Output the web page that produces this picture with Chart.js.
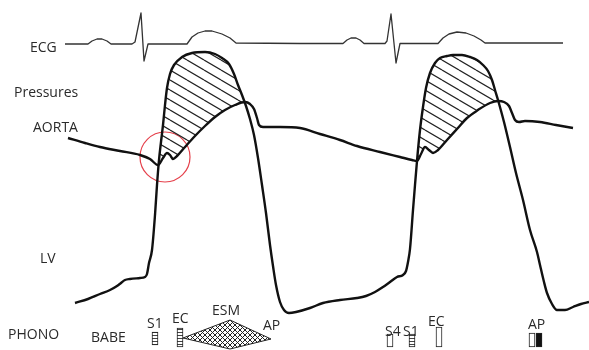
<!DOCTYPE html>
<html>
<head>
<meta charset="utf-8">
<script src="https://cdn.jsdelivr.net/npm/chart.js@4.4.1/dist/chart.umd.min.js"></script>
<style>
  html, body { margin: 0; padding: 0; background: #fff; }
  #grafico { display: block; }
</style>
</head>
<body>
<canvas id="grafico" width="589" height="350"></canvas>
<script>
// curves of the cardiac cycle: [time, level] (level axis drawn top-down)
var ecg = [[65,44],[88,44],[92,41],[97,39],[102,39],[107,41],[111,44],[132,44],[135,42],[141,13],[144,61],[148,44],
  [187,44],[192,37],[198,33],[205,31],[212,31],[222,34],[230,38],[236,43],[300,43.5],
  [343,43.5],[347,40],[351,38],[356,38],[360,40],[364,43.5],[385,43.5],[387,41],[391,14],[396,63],[400,43.5],
  [438,43.5],[443,38],[449,34],[457,32],[466,33],[474,36],[481,40],[485,43],[563,43]];

var aorta = [[68,138],[85,143],[100,147],[120,151],[140,155],[150,159],[158,165],[163,158],[167,153],[170,155],[173,159],
  [177,156],[185,147],[195,136],[205,126],[215,117],[225,110],[235,105],[245,102],[250,104],[254,109],[257,118],[259,125],
  [263,127],[280,127],[300,128],[320,134],[340,140],[357,146],[380,152],[400,157],[412,160],[417,161],[421,154],[425,147],
  [429,150],[433,153],[438,150],[447,140],[457,129],[467,118],[478,110],[490,103],[498,101],[504,102],[509,106],
  [512,113],[515,120],[519,122],[525,121],[540,122],[556,125],[573,128]];

var lv = [[75,303],[88,299],[100,294],[110,290],[117,286],[121,283],[125,280],[130,279],[140,278],[145,277],[147,274],
  [149,263],[152,250],[155,215],[157,185],[159,160],[161,142],[163,125],[165,105],[167,88],[170,74],[174,65],[182,57],
  [192,53],[205,52],[215,54],[222,58],[229,64],[234,74],[238,85],[242,95],[246,106],[250,119],[254,135],[258,158],
  [262,185],[266,213],[270,245],[273,266],[276,285],[280,302],[284,310],[289,313],[296,312],[310,308],[323,303],
  [340,300],[357,298],[366,296],[375,292],[383,287],[390,282],[397,277],[403,275],[406,271],[408,262],[410,249],
  [413,210],[415,185],[417,161],[420,130],[423,107],[426,88],[430,73],[435,63],[440,58],[447,56],[453,55],[462,55],
  [470,57],[477,60],[483,65],[488,71],[492,80],[495,90],[498,100],[504,122],[510,147],[516,173],[523,200],[530,230],
  [537,252],[540,265],[544,282],[547,293],[552,304],[557,310],[565,310],[573,307],[581,304],[589,302]];

// phonocardiogram: systolic murmur envelope (upper / lower) and sound events
var esmUpper = [[183,338],[230,320],[271,339]];
var esmLower = [[183,338],[230,349],[271,339]];
var sounds = ['S1','EC','S4','S1','EC','AP','AP'];
var soundTime = [155,180,390,412,439,532,539];
var soundTop = [332,328,334,334,327,333,333];
var soundBottom = [345,347,347,347,347,347,347];
var soundFill = ['stripes','stripes','open','stripes','open','open','solid'];

// highlighted point (aortic opening)
var marker = {x: 165, y: 157, r: 25};

// text labels
var labels = [
  {t: 'ECG', x: 30, y: 52}, {t: 'Pressures', x: 14, y: 97}, {t: 'AORTA', x: 33, y: 132}, {t: 'LV', x: 40, y: 263},
  {t: 'PHONO', x: 8, y: 339}, {t: 'BABE', x: 91, y: 342}, {t: 'S1', x: 147, y: 328}, {t: 'EC', x: 172, y: 323},
  {t: 'ESM', x: 212, y: 315}, {t: 'AP', x: 263, y: 330}, {t: 'S4', x: 385, y: 336}, {t: 'S1', x: 403, y: 336},
  {t: 'EC', x: 428, y: 326}, {t: 'AP', x: 528, y: 329}
];

var ctx = document.querySelector('#grafico').getContext('2d');

// hatch patterns
function pattern(w, h, draw) {
  var c = document.createElement('canvas');
  c.width = w; c.height = h;
  var g = c.getContext('2d');
  draw(g, w, h);
  return ctx.createPattern(c, 'repeat');
}
var diag = pattern(17, 10, function (g, w, h) {
  g.strokeStyle = '#222'; g.lineWidth = 1.2;
  g.beginPath();
  for (var k = -1; k <= 1; k++) { g.moveTo(0, k * h); g.lineTo(w, k * h + h); }
  g.stroke();
});
var cross = pattern(5, 5, function (g, w, h) {
  g.strokeStyle = '#222'; g.lineWidth = 1;
  g.beginPath();
  for (var k = -1; k <= 1; k++) {
    g.moveTo(0, k * h); g.lineTo(w, k * h + h);
    g.moveTo(0, k * h + h); g.lineTo(w, k * h);
  }
  g.stroke();
});
var stripes = pattern(4, 3, function (g, w, h) {
  g.fillStyle = '#fff'; g.fillRect(0, 0, w, h);
  g.fillStyle = '#444'; g.fillRect(0, 2, w, 1);
});
var fills = {stripes: stripes, open: '#fff', solid: '#111'};

function pts(arr) { return arr.map(function (p) { return {x: p[0], y: p[1]}; }); }

var curve = {type: 'line', pointRadius: 0, cubicInterpolationMode: 'monotone', borderJoinStyle: 'round'};

var labelPlugin = {
  id: 'labels',
  afterDatasetsDraw: function (chart) {
    var c = chart.ctx, xs = chart.scales.x, ys = chart.scales.y;
    c.save();
    c.font = '14px "Open Sans"';
    c.fillStyle = '#2a2a2a';
    c.textBaseline = 'alphabetic';
    labels.forEach(function (l) { c.fillText(l.t, xs.getPixelForValue(l.x), ys.getPixelForValue(l.y)); });
    c.restore();
  }
};

var chart = new Chart(ctx, {
  type: 'line',
  data: {
    datasets: [
      Object.assign({}, curve, {label: 'ECG', data: pts(ecg), borderColor: '#333', borderWidth: 1.3, fill: false, cubicInterpolationMode: 'default', tension: 0}),
      Object.assign({}, curve, {label: 'AORTA', data: pts(aorta), borderColor: '#111', borderWidth: 2.4, fill: false}),
      Object.assign({}, curve, {label: 'LV', data: pts(lv), borderColor: '#111', borderWidth: 2.4,
        fill: {target: 1, above: diag, below: 'rgba(0,0,0,0)'}}),
      Object.assign({}, curve, {label: 'ESM', data: pts(esmUpper), borderColor: '#222', borderWidth: 1, tension: 0,
        cubicInterpolationMode: 'default', fill: 4, backgroundColor: cross}),
      Object.assign({}, curve, {label: 'ESM low', data: pts(esmLower), borderColor: '#222', borderWidth: 1, tension: 0,
        cubicInterpolationMode: 'default', fill: false}),
      {type: 'bar', label: 'sounds', data: soundTime.map(function (t, i) { return {x: t, y: [soundTop[i], soundBottom[i]]}; }),
        backgroundColor: soundFill.map(function (f) { return fills[f]; }),
        borderColor: '#222', borderWidth: 1, borderSkipped: false, barThickness: 6},
      {type: 'bubble', label: 'marker', data: [marker], borderColor: '#e5404b', borderWidth: 1.2,
        backgroundColor: 'rgba(0,0,0,0)'}
    ]
  },
  options: {
    responsive: false,
    animation: false,
    devicePixelRatio: 1,
    layout: {padding: 0, autoPadding: false},
    plugins: {legend: {display: false}, tooltip: {enabled: false}},
    scales: {
      x: {type: 'linear', min: 0, max: 589, display: false, offset: false},
      y: {type: 'linear', min: 0, max: 350, reverse: true, display: false, stacked: false}
    }
  },
  plugins: [labelPlugin]
});
</script>
</body>
</html>
